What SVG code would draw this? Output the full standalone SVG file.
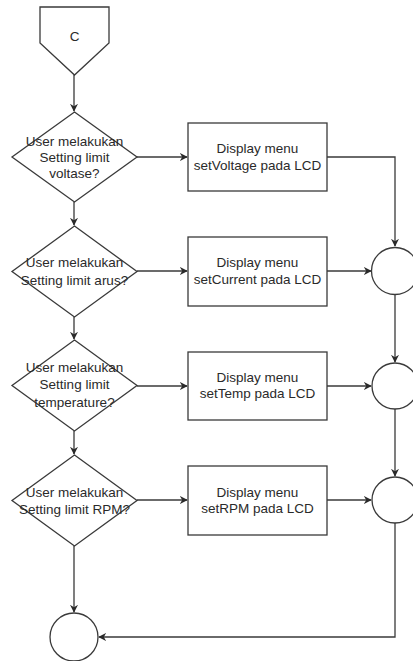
<svg xmlns="http://www.w3.org/2000/svg" width="413" height="661" viewBox="0 0 413 661">
<defs>
<style>
.s{fill:#fff;stroke:#3a3a3a;stroke-width:1.3}
.e{fill:none;stroke:#3a3a3a;stroke-width:1.3}
text{font-family:"Liberation Sans",Arial,sans-serif;font-size:13.5px;fill:#2a2a2a;text-anchor:middle}
</style>
<marker id="a" viewBox="0 0 10 10" refX="9" refY="5" markerWidth="8" markerHeight="8" markerUnits="userSpaceOnUse" orient="auto">
<path d="M0,0 L10,5 L0,10 L3,5 Z" fill="#2a2a2a"/>
</marker>
</defs>
<rect width="413" height="661" fill="#fff"/>
<g id="connectors">
<path class="e" d="M74,75 V111" marker-end="url(#a)"/>
<path class="e" d="M137,157 H187" marker-end="url(#a)"/>
<path class="e" d="M74,202 V225" marker-end="url(#a)"/>
<path class="e" d="M327,157 H395 V246" marker-end="url(#a)"/>
<path class="e" d="M137,271 H187" marker-end="url(#a)"/>
<path class="e" d="M327,271 H371" marker-end="url(#a)"/>
<path class="e" d="M74,317 V339" marker-end="url(#a)"/>
<path class="e" d="M137,386 H187" marker-end="url(#a)"/>
<path class="e" d="M327,386 H371" marker-end="url(#a)"/>
<path class="e" d="M395,295 V362" marker-end="url(#a)"/>
<path class="e" d="M74,431 V454" marker-end="url(#a)"/>
<path class="e" d="M137,500 H187" marker-end="url(#a)"/>
<path class="e" d="M327,500 H371" marker-end="url(#a)"/>
<path class="e" d="M395,409 V476" marker-end="url(#a)"/>
<path class="e" d="M395,523 V637 H99" marker-end="url(#a)"/>
<path class="e" d="M74,546 V612" marker-end="url(#a)"/>
</g>
<g id="C">
<path class="s" d="M40,7 H109 V43 L74.5,75 L40,43 Z"/>
<text x="74.5" y="41">C</text>
</g>
<g id="d1">
<path class="s" d="M74.5,112 L137,157 L74.5,202 L12,157 Z"/>
<text x="74.5" y="146">User melakukan</text>
<text x="74.5" y="162">Setting limit</text>
<text x="74.5" y="178">voltase?</text>
</g>
<g id="r1">
<rect class="s" x="188" y="123" width="139" height="68"/>
<text x="257.5" y="153">Display menu</text>
<text x="257.5" y="170">setVoltage pada LCD</text>
</g>
<g id="d2">
<path class="s" d="M74.5,226 L137,271.5 L74.5,317 L12,271.5 Z"/>
<text x="74.5" y="267">User melakukan</text>
<text x="74.5" y="285">Setting limit arus?</text>
</g>
<g id="r2">
<rect class="s" x="188" y="237" width="139" height="69"/>
<text x="257.5" y="267">Display menu</text>
<text x="257.5" y="284">setCurrent pada LCD</text>
</g>
<g id="c1"><circle class="s" cx="395" cy="271" r="23.5"/></g>
<g id="d3">
<path class="s" d="M74.5,340 L137,385.5 L74.5,431 L12,385.5 Z"/>
<text x="74.5" y="372">User melakukan</text>
<text x="74.5" y="389">Setting limit</text>
<text x="74.5" y="407">temperature?</text>
</g>
<g id="r3">
<rect class="s" x="188" y="352" width="139" height="68"/>
<text x="257.5" y="382">Display menu</text>
<text x="257.5" y="398">setTemp pada LCD</text>
</g>
<g id="c2"><circle class="s" cx="395" cy="386" r="23"/></g>
<g id="d4">
<path class="s" d="M74.5,455 L137,500.5 L74.5,546 L12,500.5 Z"/>
<text x="74.5" y="497">User melakukan</text>
<text x="74.5" y="514">Setting limit RPM?</text>
</g>
<g id="r4">
<rect class="s" x="188" y="466" width="139" height="69"/>
<text x="257.5" y="497">Display menu</text>
<text x="257.5" y="513">setRPM pada LCD</text>
</g>
<g id="c3"><circle class="s" cx="395" cy="500" r="23"/></g>
<g id="c4"><circle class="s" cx="74" cy="637" r="24"/></g>
</svg>
